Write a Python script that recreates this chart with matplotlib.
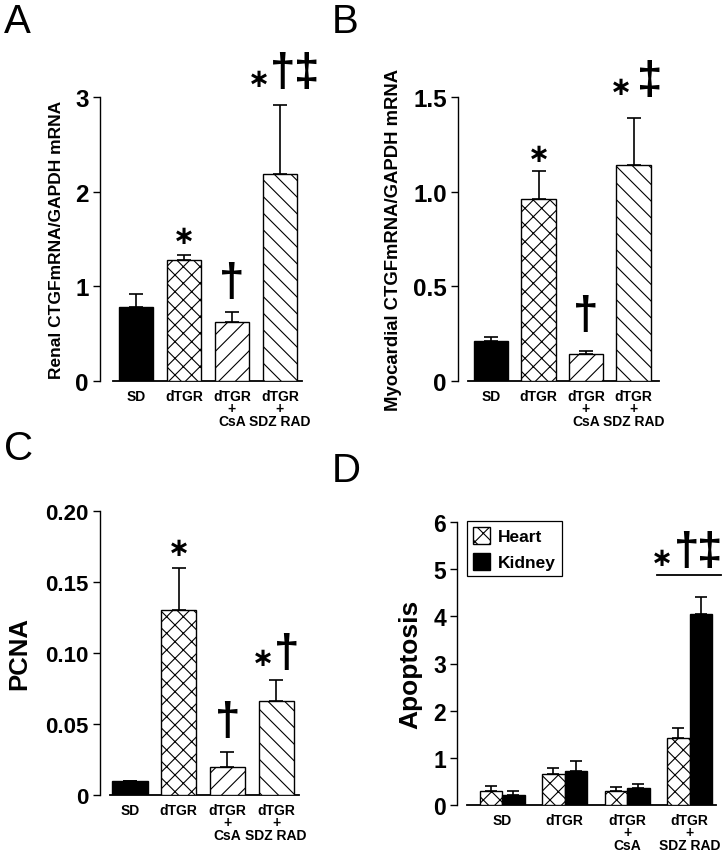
import matplotlib
matplotlib.use("Agg")
import matplotlib.pyplot as plt
from matplotlib.patches import Patch

plt.rcParams['font.family'] = ['Liberation Sans', 'DejaVu Sans']
plt.rcParams['hatch.linewidth'] = 0.8

# ---------------- data ----------------
groups = ["SD", "dTGR", "dTGR\n+\nCsA", "dTGR\n+\nSDZ RAD"]

renal_ctgf = [0.78, 1.28, 0.62, 2.19]
renal_ctgf_err = [0.14, 0.05, 0.11, 0.73]

myo_ctgf = [0.21, 0.96, 0.14, 1.14]
myo_ctgf_err = [0.02, 0.15, 0.02, 0.25]

pcna = [0.010, 0.130, 0.020, 0.066]
pcna_err = [0.0, 0.030, 0.010, 0.015]

apo_heart = [0.30, 0.65, 0.30, 1.42]
apo_heart_err = [0.10, 0.13, 0.08, 0.21]
apo_kidney = [0.22, 0.72, 0.35, 4.05]
apo_kidney_err = [0.08, 0.21, 0.10, 0.37]

hatches = [None, 'xx', '//', '\\\\']
faces = ['black', 'white', 'white', 'white']

W, H = 724, 853
fig = plt.figure(figsize=(W / 100, H / 100), dpi=100)


def make_ax(xaxis_px, right_px, top_px, bottom_px, c0_px, sp_px):
    ax = fig.add_axes([xaxis_px / W, 1 - bottom_px / H,
                       (right_px - xaxis_px) / W, (bottom_px - top_px) / H])
    ax.set_xlim((xaxis_px - c0_px) / sp_px, (right_px - c0_px) / sp_px)
    for s in ['top', 'right', 'bottom']:
        ax.spines[s].set_visible(False)
    ax.spines['left'].set_linewidth(1.0)
    ax.tick_params(axis='y', direction='out', length=5, width=1.0, pad=3)
    ax.tick_params(axis='x', length=0, pad=5.5)
    return ax


def style_ax(ax, yticks, ylabels, ysize, ylabel, lsize, lpad, baseline):
    ax.set_ylim(yticks[0], yticks[-1])
    ax.set_yticks(yticks)
    ax.set_yticklabels(ylabels, fontsize=ysize, fontweight='bold')
    ax.set_xticks(range(len(groups)))
    ax.set_xticklabels(groups, fontsize=10, fontweight='bold', linespacing=0.86)
    ax.set_ylabel(ylabel, fontsize=lsize, fontweight='bold', labelpad=lpad)
    ax.plot(baseline, [0, 0], color='black', lw=1.3, zorder=1, clip_on=False)


def single_bars(ax, vals, errs, width=0.72):
    x = list(range(len(vals)))
    for i in x:
        ax.bar(i, vals[i], width=width, color=faces[i], edgecolor='black',
               hatch=hatches[i], linewidth=1.0, zorder=2)
    ax.errorbar(x, vals, yerr=[[0] * len(errs), errs], fmt='none',
                ecolor='black', elinewidth=1.2, capsize=5, capthick=1.2, zorder=3)


SIZES = {"∗": 19, "†": 33, "‡": 33}


def mark(ax, x, y, parts):
    # parts: (symbol, dx_px, dy_px) relative to anchor (x, y) in data coords
    for sym, dx, dy in parts:
        ax.annotate(sym, xy=(x, y), xytext=(dx * 0.72, -dy * 0.72),
                    textcoords='offset points', ha='center', va='center',
                    fontsize=SIZES[sym], fontweight='bold',
                    family=['Liberation Sans', 'DejaVu Sans'], annotation_clip=False)


# ---------------- Panel A ----------------
axA = make_ax(100, 305, 98, 382, 136, 48)
single_bars(axA, renal_ctgf, renal_ctgf_err)
style_ax(axA, [0, 1, 2, 3], ["0", "1", "2", "3"], 17.5,
         "Renal CTGFmRNA/GAPDH mRNA", 12.5, 8, [-0.48, 3.46])
mark(axA, 1, 1.53, [("∗", 0, 0)])
mark(axA, 2, 1.03, [("†", 0, 0)])
mark(axA, 3, 3.19, [("∗", -21, 0), ("†", 3, -6), ("‡", 27, -6)])

# ---------------- Panel B ----------------
axB = make_ax(458, 662, 98, 382, 491, 47.5)
single_bars(axB, myo_ctgf, myo_ctgf_err)
style_ax(axB, [0, 0.5, 1.0, 1.5], ["0", "0.5", "1.0", "1.5"], 17.5,
         "Myocardial CTGFmRNA/GAPDH mRNA", 13.3, 8, [-0.48, 3.54])
mark(axB, 1, 1.20, [("∗", 0, 0)])
mark(axB, 2, 0.343, [("†", 0, 0)])
mark(axB, 3, 1.585, [("∗", -13, 6), ("‡", 16, 0)])

# ---------------- Panel C ----------------
axC = make_ax(100, 302, 512, 796, 130, 48.7)
single_bars(axC, pcna, pcna_err)
style_ax(axC, [0, 0.05, 0.10, 0.15, 0.20], ["0", "0.05", "0.10", "0.15", "0.20"], 16,
         "PCNA", 18.5, 10, [-0.41, 3.47])
mark(axC, 1, 0.174, [("∗", 0, 0)])
mark(axC, 2, 0.0514, [("†", 0, 0)])
mark(axC, 3, 0.099, [("∗", -13, 4), ("†", 11, 0)])

# ---------------- Panel D ----------------
axD = make_ax(457, 722, 523, 806, 502, 62.5)
xs = list(range(len(groups)))
bw = 0.36
axD.bar([x - bw / 2 for x in xs], apo_heart, width=bw, color='white', edgecolor='black',
        hatch='xx', linewidth=1.0, zorder=2, label='Heart')
axD.bar([x + bw / 2 for x in xs], apo_kidney, width=bw, color='black', edgecolor='black',
        linewidth=1.0, zorder=2, label='Kidney')
axD.errorbar([x - bw / 2 for x in xs], apo_heart, yerr=[[0] * 4, apo_heart_err], fmt='none',
             ecolor='black', elinewidth=1.2, capsize=4.5, capthick=1.2, zorder=3)
axD.errorbar([x + bw / 2 for x in xs], apo_kidney, yerr=[[0] * 4, apo_kidney_err], fmt='none',
             ecolor='black', elinewidth=1.2, capsize=4.5, capthick=1.2, zorder=3)
style_ax(axD, [0, 1, 2, 3, 4, 5, 6], ["0", "1", "2", "3", "4", "5", "6"], 16.5,
         "Apoptosis", 19, 8, [-0.56, 3.42])
axD.plot([2.48, 3.50], [4.876, 4.876], color='black', lw=1.3, clip_on=False)
mark(axD, 2.98, 5.32, [("∗", -26, 4), ("†", -2, -2), ("‡", 22, -2)])
handles = [Patch(facecolor='white', edgecolor='black', hatch='xx', label='Heart'),
           Patch(facecolor='black', edgecolor='black', label='Kidney')]
leg = axD.legend(handles=handles, loc='upper left',
                 bbox_to_anchor=(467 / W, 1 - 522 / H), bbox_transform=fig.transFigure,
                 borderaxespad=0, fancybox=False, framealpha=1, edgecolor='black',
                 prop={'weight': 'bold', 'size': 12.5}, handlelength=1.0, handleheight=1.1,
                 handletextpad=0.45, borderpad=0.35, labelspacing=0.5)
leg.get_frame().set_linewidth(0.9)

# ---------------- Panel letters ----------------
for lbl, px, py in [("A", 4, 3), ("B", 332, 3), ("C", 4, 430), ("D", 332, 452)]:
    fig.text(px / W, 1 - py / H, lbl, fontsize=29, ha='left', va='top')

fig.savefig("out.png", dpi=100)
